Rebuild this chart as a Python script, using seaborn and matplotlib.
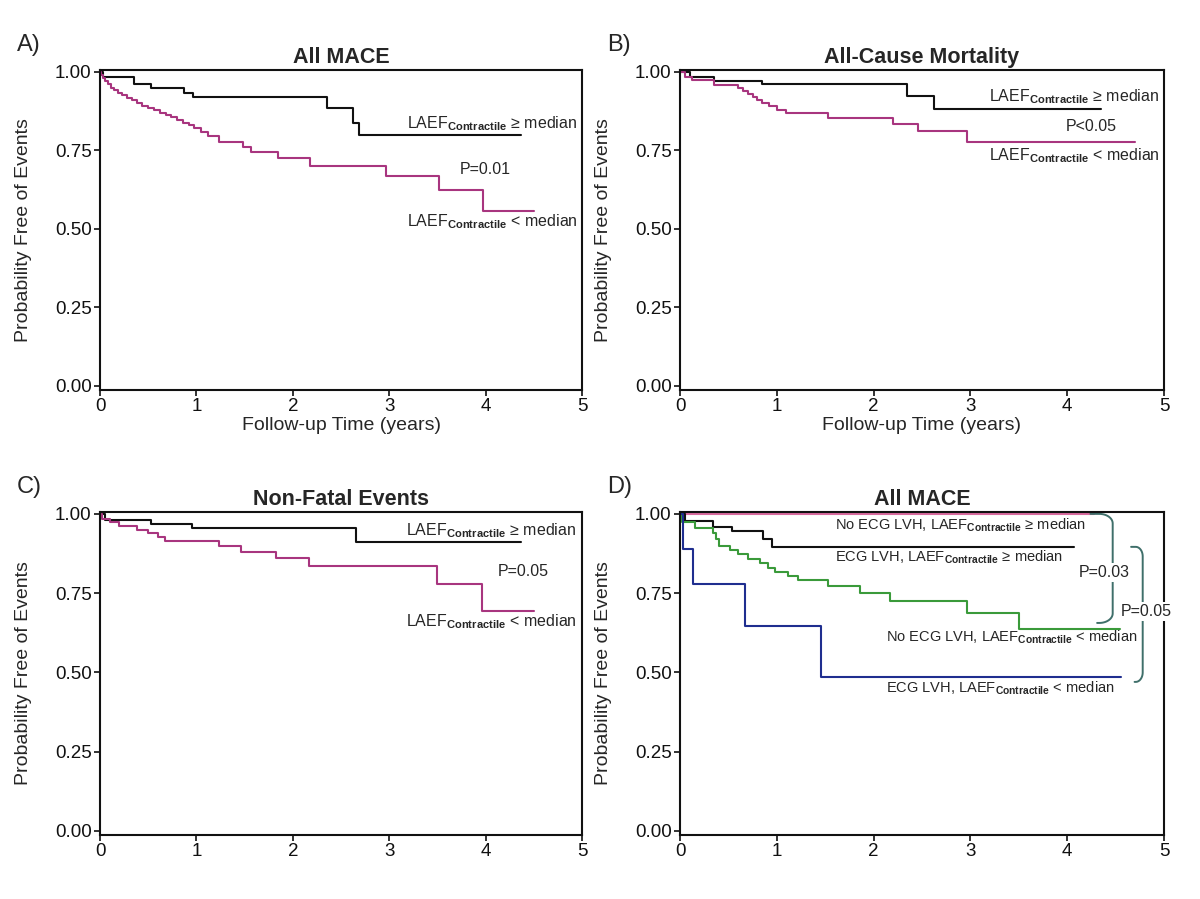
import numpy as np
import matplotlib
matplotlib.use('Agg')
import matplotlib.pyplot as plt
import seaborn as sns

# Panel A - All MACE
a_hi_t = [0, 0.03, 0.35, 0.53, 0.87, 0.96, 2.35, 2.62, 2.69, 4.37]
a_hi_s = [1.0, 0.985, 0.962, 0.948, 0.934, 0.92, 0.886, 0.838, 0.80, 0.80]
a_lo_t = [0, 0.01, 0.03, 0.05, 0.08, 0.11, 0.15, 0.19, 0.23, 0.28, 0.33, 0.38, 0.44,
          0.5, 0.56, 0.62, 0.68, 0.74, 0.8, 0.86, 0.92, 0.97, 1.05, 1.12, 1.23, 1.48,
          1.57, 1.85, 2.18, 2.97, 3.52, 3.97, 4.5]
a_lo_s = [1.0, 0.99, 0.98, 0.97, 0.96, 0.95, 0.942, 0.934, 0.926, 0.918, 0.91, 0.90,
          0.892, 0.885, 0.878, 0.87, 0.862, 0.855, 0.847, 0.838, 0.83, 0.82, 0.81,
          0.795, 0.777, 0.762, 0.745, 0.725, 0.70, 0.669, 0.625, 0.558, 0.558]

# Panel B - All-Cause Mortality
b_hi_t = [0, 0.1, 0.35, 0.85, 2.34, 2.62, 4.35]
b_hi_s = [1.0, 0.985, 0.972, 0.96, 0.924, 0.883, 0.883]
b_lo_t = [0, 0.05, 0.12, 0.35, 0.6, 0.65, 0.7, 0.75, 0.8, 0.85, 0.92, 1.0, 1.1,
          1.53, 2.2, 2.46, 2.96, 4.7]
b_lo_s = [1.0, 0.985, 0.975, 0.958, 0.948, 0.94, 0.93, 0.92, 0.91, 0.90, 0.89,
          0.88, 0.868, 0.853, 0.835, 0.812, 0.777, 0.777]

# Panel C - Non-Fatal Events
c_hi_t = [0, 0.05, 0.53, 0.95, 2.66, 4.37]
c_hi_s = [1.0, 0.982, 0.969, 0.955, 0.91, 0.91]
c_lo_t = [0, 0.02, 0.1, 0.2, 0.38, 0.5, 0.6, 0.67, 1.23, 1.46, 1.83, 2.17, 3.5, 3.96, 4.5]
c_lo_s = [1.0, 0.985, 0.975, 0.962, 0.95, 0.94, 0.928, 0.916, 0.9, 0.88, 0.862,
          0.835, 0.78, 0.695, 0.695]

# Panel D - All MACE by ECG LVH
d_nolvh_hi_t = [0, 4.28]
d_nolvh_hi_s = [1.0, 1.0]
d_lvh_hi_t = [0, 0.05, 0.34, 0.54, 0.86, 0.95, 4.07]
d_lvh_hi_s = [1.0, 0.978, 0.96, 0.945, 0.92, 0.895, 0.895]
d_nolvh_lo_t = [0, 0.02, 0.15, 0.34, 0.37, 0.4, 0.52, 0.6, 0.7, 0.83, 0.91, 0.98,
                1.12, 1.22, 1.53, 1.86, 2.17, 2.97, 3.5, 4.55]
d_nolvh_lo_s = [1.0, 0.975, 0.955, 0.94, 0.92, 0.9, 0.886, 0.872, 0.858, 0.845,
                0.83, 0.817, 0.804, 0.792, 0.772, 0.752, 0.726, 0.688, 0.637, 0.637]
d_lvh_lo_t = [0, 0.03, 0.13, 0.67, 1.46, 4.56]
d_lvh_lo_s = [1.0, 0.89, 0.779, 0.647, 0.486, 0.486]

titles = ['All MACE', 'All-Cause Mortality', 'Non-Fatal Events', 'All MACE']
panel_tags = ['A)', 'B)', 'C)', 'D)']
p_values = ['P=0.01', 'P<0.05', 'P=0.05']
yticks = [0, 0.25, 0.5, 0.75, 1.0]
ytick_labels = ['0.00', '0.25', '0.50', '0.75', '1.00']
xticks = [0, 1, 2, 3, 4, 5]

sns.set_style('ticks')
plt.rcParams['font.family'] = ['Liberation Sans', 'DejaVu Sans']
plt.rcParams['mathtext.fontset'] = 'custom'
plt.rcParams['mathtext.rm'] = 'Liberation Sans'
plt.rcParams['mathtext.bf'] = 'Liberation Sans:bold'
plt.rcParams['mathtext.it'] = 'Liberation Sans:italic'

BLACK = '#111111'
MAGENTA = '#a8357f'
PINK = '#d86a9e'
GREEN = '#3a9a3a'
BLUE = '#1f2e8f'
TEAL = '#3f6f6a'

hi_lbl = 'LAEF$_{\\mathbf{Contractile}}$ \u2265 median'
lo_lbl = 'LAEF$_{\\mathbf{Contractile}}$ < median'

fig = plt.figure(figsize=(12, 8.99), dpi=100)
W = 1200.0
H = 899.0
rects = [
    [100 / W, 1 - 390 / H, 482 / W, 320 / H],
    [680 / W, 1 - 390 / H, 484 / W, 320 / H],
    [100 / W, 1 - 835 / H, 482 / W, 323 / H],
    [680 / W, 1 - 835 / H, 484 / W, 323 / H],
]
axes = [fig.add_axes(r) for r in rects]
tag_pos = [(17, 45), (607, 45), (17, 487), (607, 487)]


def km(ax, t, s, color, lw=1.5):
    sns.lineplot(x=t, y=s, ax=ax, color=color, drawstyle='steps-post',
                 estimator=None, linewidth=lw)


def bracket(ax, x0, xv, y_top, y_bot, color):
    rx = (xv - x0) * 0.6
    ry = 0.03
    th = np.linspace(0, np.pi / 2, 15)
    top_x = np.concatenate([[x0], xv - rx + rx * np.sin(th)])
    top_y = np.concatenate([[y_top], y_top - ry + ry * np.cos(th)])
    bot_x = xv - rx + rx * np.cos(th)
    bot_y = y_bot + ry - ry * np.sin(th)
    xs = np.concatenate([top_x, bot_x, [x0 + (xv - x0) * 0.3]])
    ys = np.concatenate([top_y, bot_y, [y_bot]])
    ax.plot(xs, ys, color=color, lw=1.4, clip_on=False, zorder=2)


km(axes[0], a_hi_t, a_hi_s, BLACK)
km(axes[0], a_lo_t, a_lo_s, MAGENTA)
axes[0].text(3.18, 0.835, hi_lbl, fontsize=11.5, va='center')
axes[0].text(3.73, 0.69, p_values[0], fontsize=11.5, va='center')
axes[0].text(3.18, 0.524, lo_lbl, fontsize=11.5, va='center')

km(axes[1], b_hi_t, b_hi_s, BLACK)
km(axes[1], b_lo_t, b_lo_s, MAGENTA)
axes[1].text(3.19, 0.922, hi_lbl, fontsize=11.5, va='center')
axes[1].text(3.98, 0.826, p_values[1], fontsize=11.5, va='center')
axes[1].text(3.19, 0.732, lo_lbl, fontsize=11.5, va='center')

km(axes[2], c_hi_t, c_hi_s, BLACK)
km(axes[2], c_lo_t, c_lo_s, MAGENTA)
axes[2].text(3.17, 0.948, hi_lbl, fontsize=11.5, va='center')
axes[2].text(4.13, 0.817, p_values[2], fontsize=11.5, va='center')
axes[2].text(3.17, 0.66, lo_lbl, fontsize=11.5, va='center')

axd = axes[3]
km(axd, d_nolvh_hi_t, d_nolvh_hi_s, PINK)
km(axd, d_lvh_hi_t, d_lvh_hi_s, BLACK)
km(axd, d_nolvh_lo_t, d_nolvh_lo_s, GREEN)
km(axd, d_lvh_lo_t, d_lvh_lo_s, BLUE)
d_fs = 10.5
axd.text(1.6, 0.963, 'No ECG LVH, ' + hi_lbl, fontsize=d_fs, va='center')
axd.text(1.6, 0.862, 'ECG LVH, ' + hi_lbl, fontsize=d_fs, va='center')
axd.text(2.13, 0.612, 'No ECG LVH, ' + lo_lbl, fontsize=d_fs, va='center')
axd.text(2.13, 0.45, 'ECG LVH, ' + lo_lbl, fontsize=d_fs, va='center')
bracket(axd, 4.24, 4.47, 1.0, 0.656, TEAL)
bracket(axd, 4.66, 4.78, 0.896, 0.47, TEAL)
axd.text(4.12, 0.815, 'P=0.03', fontsize=11.5, va='center', zorder=6,
         bbox=dict(facecolor='white', edgecolor='none', pad=1.5))
axd.text(4.55, 0.693, 'P=0.05', fontsize=11.5, va='center', zorder=6, clip_on=False,
         bbox=dict(facecolor='white', edgecolor='none', pad=1.5))

for i, ax in enumerate(axes):
    ax.set_xlim(0, 5)
    ax.set_ylim(-0.013, 1.006)
    ax.set_xticks(xticks)
    ax.set_xticklabels([str(x) for x in xticks], fontsize=13.5)
    ax.set_yticks(yticks)
    ax.set_yticklabels(ytick_labels, fontsize=13.5)
    ax.tick_params(direction='out', length=4, width=1.2, pad=2, colors='#111111')
    for sp in ax.spines.values():
        sp.set_visible(True)
        sp.set_linewidth(1.5)
        sp.set_color('#111111')
    ax.set_title(titles[i], fontsize=15.5, fontweight='bold', pad=5)
    ax.set_ylabel('Probability Free of Events', fontsize=14)
    ax.yaxis.set_label_coords(-0.141, 0.5)
    if i < 2:
        ax.set_xlabel('Follow-up Time (years)', fontsize=14, labelpad=1)
    else:
        ax.set_xlabel('')
    fig.text(tag_pos[i][0] / W, 1 - tag_pos[i][1] / H, panel_tags[i],
             fontsize=17, ha='left', va='center')

plt.savefig('out.png', dpi=100)
